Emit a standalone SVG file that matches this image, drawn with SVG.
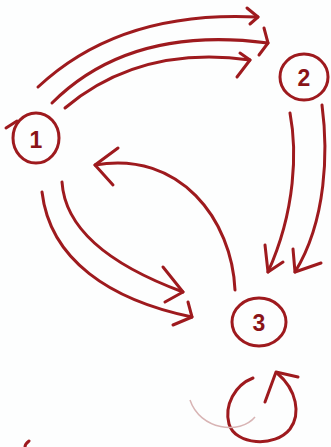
<svg xmlns="http://www.w3.org/2000/svg" width="331" height="447" viewBox="0 0 331 447">
<style>
.s{fill:none;stroke:#9e1a1e;stroke-width:3;stroke-linecap:round;stroke-linejoin:round}
.n{fill:none;stroke:#9e1a1e;stroke-width:3}
.t{font-family:"Liberation Sans",Arial,sans-serif;font-size:23px;font-weight:bold;fill:#8a1418;text-anchor:middle;dominant-baseline:central}
</style>
<rect width="331" height="447" fill="#fdfefe"/>
<g id="node1">
<ellipse class="n" cx="36" cy="138" rx="23" ry="25"/>
<path class="s" d="M6,128 L17,121"/>
<text class="t" x="36" y="140">1</text>
</g>
<g id="node2">
<ellipse class="n" cx="304" cy="77" rx="24" ry="23"/>
<text class="t" x="304" y="78">2</text>
</g>
<g id="node3">
<ellipse class="n" cx="259" cy="322" rx="27" ry="24"/>
<text class="t" x="259" y="323">3</text>
</g>
<g id="connectors">
<path class="s" d="M38,87 Q120,10 258,17"/>
<path class="s" d="M247,8 L258,17 L250,24"/>
<path class="s" d="M52,103 Q130,25 268,43"/>
<path class="s" d="M264,28 L268,43 L259,55"/>
<path class="s" d="M65,108 Q140,45 250,60"/>
<path class="s" d="M240,53 L250,60 L237,77"/>
<path class="s" d="M290,113 C297,150 296,210 268,272"/>
<path class="s" d="M265,245 L268,272 L283,262"/>
<path class="s" d="M322,105 C328,150 327,220 295,272"/>
<path class="s" d="M293,249 L295,272 L321,263"/>
<path class="s" d="M235,290 C232,220 180,150 95,165"/>
<path class="s" d="M118,148 L95,165 L113,185"/>
<path class="s" d="M62,182 C65,230 110,265 183,292"/>
<path class="s" d="M163,267 L183,292 L165,302"/>
<path class="s" d="M42,192 C50,260 110,300 192,317"/>
<path class="s" d="M188,302 L192,317 L173,325"/>
<path class="s" d="M253,378 C235,385 224,405 229,424 C235,445 275,448 290,429 C301,414 297,390 277,373"/>
<path class="s" d="M265,402 L276,372 L298,377"/>
</g>
<path d="M190,400 C200,430 240,435 255,417" fill="none" stroke="#d8b4b4" stroke-width="1.5"/>
<path class="s" d="M29,441 Q25,444 25,447"/>
</svg>
